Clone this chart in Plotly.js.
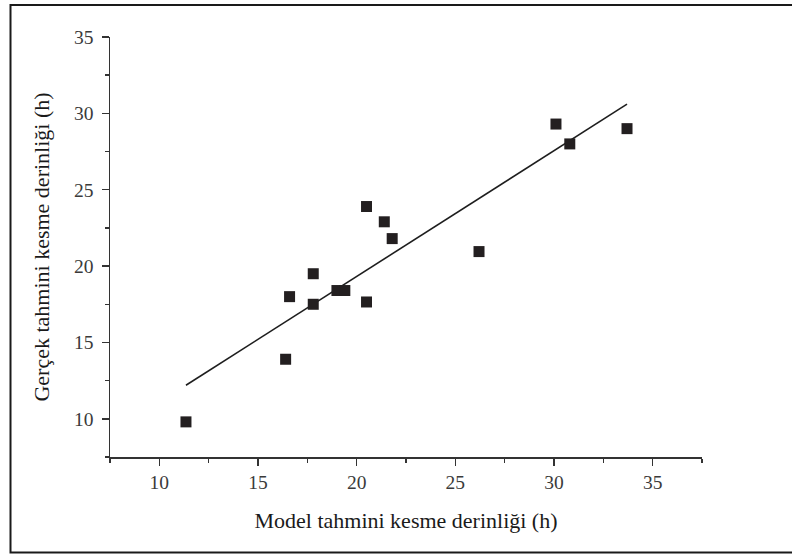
<!DOCTYPE html>
<html>
<head>
<meta charset="utf-8">
<script src="https://cdn.plot.ly/plotly-3.0.1.min.js"></script>
<style>
  html, body { margin: 0; padding: 0; background: #ffffff; }
  #chart { width: 792px; height: 554px; }
</style>
</head>
<body>
<div id="chart"></div>
<script>
// Model-predicted cutting depth (x) vs actual cutting depth (y)
const modelDepth = [20.5, 21.4, 21.8, 17.8, 30.1, 30.8, 33.7, 26.2, 16.6, 17.8, 19.0, 19.4, 20.5, 16.4, 11.35];
const actualDepth = [23.9, 22.9, 21.8, 19.5, 29.3, 28.0, 29.0, 20.95, 18.0, 17.5, 18.4, 18.4, 17.65, 13.9, 9.8];

// Fitted line end points
const fitX = [11.35, 33.7];
const fitY = [12.2, 30.6];

const xTitle = "Model tahmini kesme derinliği (h)";
const yTitle = "Gerçek tahmini kesme derinliği (h)";

const serif = "Liberation Serif, Times New Roman, serif";
const axisColor = "#333333";

const traces = [
  {
    x: fitX, y: fitY,
    type: "scatter", mode: "lines",
    line: { color: "#1e1e1e", width: 1.6 },
    hoverinfo: "skip", showlegend: false
  },
  {
    x: modelDepth, y: actualDepth,
    type: "scatter", mode: "markers",
    marker: { symbol: "square", size: 11, color: "#231f20", line: { width: 0 } },
    showlegend: false
  }
];

const axisCommon = {
  showline: true, linecolor: axisColor, linewidth: 1.5,
  ticks: "outside", ticklen: 7, tickwidth: 1.5, tickcolor: axisColor,
  showgrid: false, zeroline: false, mirror: false,
  tickfont: { family: serif, size: 19.5, color: "#3a3a3a" },
  dtick: 5, tick0: 0, fixedrange: true
};

const layout = {
  width: 792, height: 554,
  paper_bgcolor: "#ffffff", plot_bgcolor: "#ffffff",
  margin: { l: 110, r: 90, t: 37, b: 97 },
  showlegend: false,
  xaxis: Object.assign({}, axisCommon, {
    range: [7.5, 37.5],
    minor: { dtick: 2.5, tick0: 0, ticks: "outside", ticklen: 4, tickwidth: 1.5, tickcolor: axisColor },
    title: { text: xTitle, font: { family: serif, size: 22, color: "#1a1a1a" }, standoff: 20 }
  }),
  yaxis: Object.assign({}, axisCommon, {
    range: [7.5, 35],
    ticklabelstandoff: 4,
    minor: { dtick: 2.5, tick0: 0, ticks: "outside", ticklen: 4, tickwidth: 1.5, tickcolor: axisColor },
    title: { text: yTitle, font: { family: serif, size: 22, color: "#1a1a1a" }, standoff: 18 }
  }),
  shapes: [
    {
      type: "rect", xref: "paper", yref: "paper",
      x0: (10.5 - 110) / 592, x1: (800 - 110) / 592,
      y0: (457 - 552.5) / 420, y1: (457 - 5) / 420,
      line: { color: "#1a1a1a", width: 2 }, fillcolor: "rgba(0,0,0,0)", layer: "below"
    }
  ]
};

Plotly.newPlot("chart", traces, layout, { displayModeBar: false, staticPlot: true });
</script>
</body>
</html>
